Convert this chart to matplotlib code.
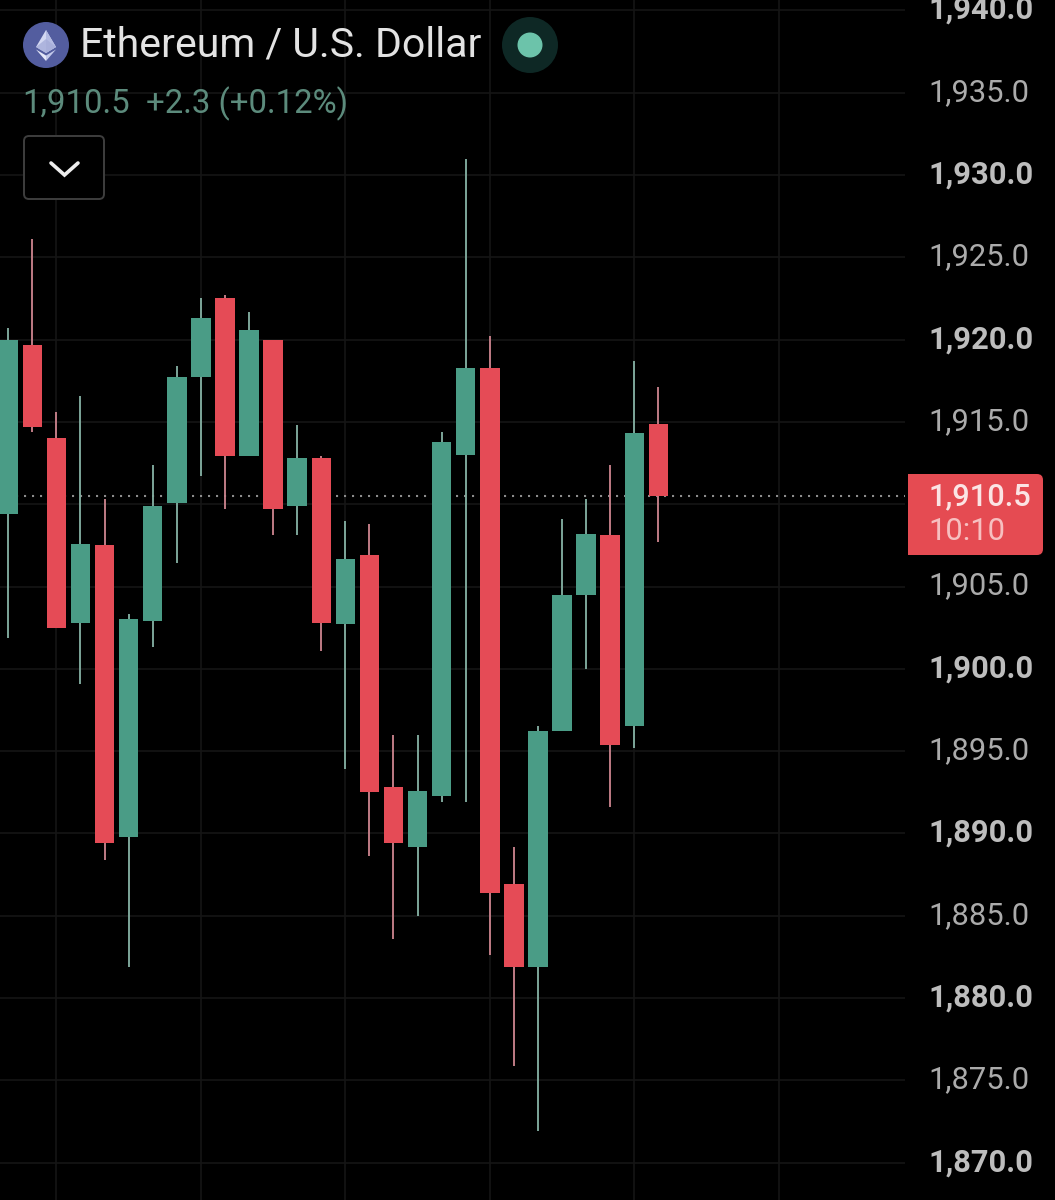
import matplotlib
matplotlib.use("Agg")
import matplotlib.pyplot as plt
from matplotlib.patches import Circle, FancyBboxPatch, Polygon, Rectangle
from matplotlib.transforms import ScaledTranslation, blended_transform_factory

# 15-minute ETH/USD candles, oldest first
opens  = [1909.4, 1919.7, 1914.0, 1902.8, 1907.5, 1889.8, 1902.9, 1910.1, 1917.7, 1922.5,
          1912.9, 1920.0, 1909.9, 1912.8, 1902.7, 1906.9, 1892.8, 1889.2, 1892.3, 1913.0,
          1918.3, 1886.9, 1881.9, 1896.2, 1904.5, 1908.1, 1896.5, 1914.9]
highs  = [1920.7, 1926.1, 1915.6, 1916.6, 1910.3, 1903.3, 1912.4, 1918.4, 1922.5, 1922.7,
          1921.7, 1920.0, 1914.8, 1912.9, 1909.0, 1908.8, 1896.0, 1896.0, 1914.4, 1931.0,
          1920.2, 1889.2, 1896.5, 1909.1, 1910.3, 1912.4, 1918.7, 1917.1]
lows   = [1901.9, 1914.4, 1902.5, 1899.1, 1888.4, 1881.9, 1901.3, 1906.4, 1911.7, 1909.7,
          1912.9, 1908.1, 1908.1, 1901.1, 1893.9, 1888.6, 1883.6, 1885.0, 1891.9, 1891.9,
          1882.6, 1875.9, 1871.9, 1896.2, 1900.0, 1891.6, 1895.2, 1907.7]
closes = [1920.0, 1914.7, 1902.5, 1907.6, 1889.4, 1903.0, 1909.9, 1917.7, 1921.3, 1912.9,
          1920.6, 1909.7, 1912.8, 1902.8, 1906.7, 1892.5, 1889.4, 1892.6, 1913.8, 1918.3,
          1886.4, 1881.9, 1896.2, 1904.5, 1908.2, 1895.4, 1914.3, 1910.5]

last_price = 1910.5
countdown = "10:10"
price_ticks = [1940, 1935, 1930, 1925, 1920, 1915, 1910, 1905, 1900, 1895, 1890, 1885, 1880, 1875, 1870]
label_ticks = [t for t in price_ticks if t != 1910]
time_ticks = [2, 8, 14, 20, 26, 32]

UP = "#4A9C86"
DOWN = "#E54B56"
UP_WICK = "#82AC9F"
DOWN_WICK = "#C7808A"
GRID = "#151515"
FONT = "Roboto"
AXIS_SIZE = 22.2
LABEL_X = 928.5

W, H = 1055, 1200
fig = plt.figure(figsize=(W / 100, H / 100), dpi=100, facecolor="black")

# Price pane, stops short of the axis labels on the right
pane_w = 905
ax = fig.add_axes([0, 0, pane_w / W, 1], facecolor="black")
ax.set_xlim(-0.34, 37.24)
ax.set_ylim(1867.73, 1940.63)
ax.axis("off")

for t in price_ticks:
    ax.axhline(t, color=GRID, lw=1.2, zorder=1)
for t in time_ticks:
    ax.axvline(t, color=GRID, lw=1.2, zorder=1)

ax.axhline(last_price, color="#8C8C8C", lw=1.5, dashes=(1.0, 2.84), zorder=2)

for i, (o, h, l, c) in enumerate(zip(opens, highs, lows, closes)):
    rising = c >= o
    ax.vlines(i, l, h, color=UP_WICK if rising else DOWN_WICK, lw=1.35, zorder=3)
    ax.add_patch(Rectangle((i - 0.405, min(o, c)), 0.81, abs(c - o),
                           facecolor=UP if rising else DOWN, edgecolor="none", zorder=4))

# Price axis labels, the round tens in bold
label_tf = blended_transform_factory(fig.transFigure, ax.transData)
lift = ScaledTranslation(0, 0.5 / 100, fig.dpi_scale_trans)
for t in label_ticks:
    bold = t % 10 == 0
    ax.text(LABEL_X / W, t, f"{t:,.1f}", transform=label_tf + lift, clip_on=False,
            family=FONT, fontsize=AXIS_SIZE, va="center", ha="left",
            fontweight="bold" if bold else "normal",
            color="#BDBDBD" if bold else "#ABABAB", zorder=6)

# Overlay in pixel units for the header widgets and price tag
ov = fig.add_axes([0, 0, 1, 1], facecolor="none")
ov.set_xlim(0, W)
ov.set_ylim(H, 0)
ov.axis("off")

# Last-price tag, square on the left and rounded on the right
ov.add_patch(FancyBboxPatch((908, 474), 135, 81, boxstyle="round,pad=0,rounding_size=6",
                            facecolor="#E54B52", edgecolor="none"))
ov.add_patch(Rectangle((908, 474), 20, 81, facecolor="#E54B52", edgecolor="none"))
ov.text(LABEL_X, 497, f"{last_price:,.1f}", family=FONT, fontsize=AXIS_SIZE, fontweight="medium",
        color="#FBE4E4", va="center", ha="left")
ov.text(LABEL_X, 532, countdown, family=FONT, fontsize=AXIS_SIZE, color="#F7BFC0", va="center", ha="left")

# Ethereum badge
ov.add_patch(Circle((46, 45), 23, facecolor="#535D9F", edgecolor="none"))
ov.add_patch(Polygon([(46, 30), (36, 47), (46, 53), (56, 47)], facecolor="#D3D8F2", edgecolor="none"))
ov.add_patch(Polygon([(46, 30), (46, 53), (56, 47)], facecolor="#B4BBE2", edgecolor="none"))
ov.add_patch(Polygon([(46, 39), (36, 47), (46, 53), (56, 47)], facecolor="#A5ADD9", edgecolor="none", alpha=0.8))
ov.add_patch(Polygon([(36, 49.5), (46, 61), (46, 55.5)], facecolor="#E4E7F8", edgecolor="none"))
ov.add_patch(Polygon([(56, 49.5), (46, 61), (46, 55.5)], facecolor="#C3C9EA", edgecolor="none"))

ov.text(80, 45, "Ethereum / U.S. Dollar", family=FONT, fontsize=29.5, color="#E3E3E3", va="center", ha="left")

# Market-open indicator
ov.add_patch(Circle((530, 45), 28, facecolor="#0E2825", edgecolor="none"))
ov.add_patch(Circle((530, 45), 12.5, facecolor="#6CC3AA", edgecolor="none"))

ov.text(22, 104, f"{last_price:,.1f}", family=FONT, fontsize=23.7, color="#5C8B7C", va="center", ha="left")
ov.text(146, 104, "+2.3 (+0.12%)", family=FONT, fontsize=23.7, color="#5C8B7C", va="center", ha="left")

# Collapse button
ov.add_patch(FancyBboxPatch((24, 136), 80, 63, boxstyle="round,pad=0,rounding_size=5",
                            facecolor="black", edgecolor="#3E3E3E", lw=1.4))
ov.plot([51, 64.5, 78], [163, 175, 163], color="#EDEDED", lw=2.6, solid_capstyle="round", solid_joinstyle="miter")

fig.savefig("out.png", dpi=100, facecolor="black")
